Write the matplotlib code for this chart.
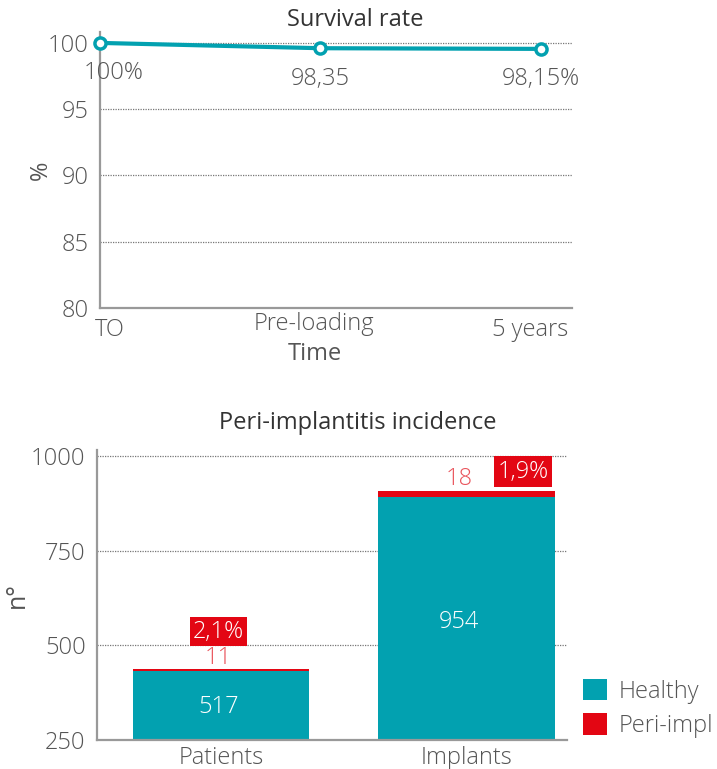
import numpy as np
import matplotlib
matplotlib.use("Agg")
from matplotlib import pyplot as plt
from matplotlib.transforms import ScaledTranslation

plt.rcParams['font.family'] = ['Open Sans', 'DejaVu Sans']
plt.rcParams['font.weight'] = 'light'

# Survival data
stages = ["TO", "Pre-loading", "5 years"]
survival = [100.0, 99.6, 99.55]
survival_labels = ["100%", "98,35", "98,15%"]

# Peri-implantitis data
groups = ["Patients", "Implants"]
healthy = [432, 892]
peri = [5, 16]
healthy_labels = ["517", "954"]
peri_labels = ["11", "18"]
peri_pct = ["2,1%", "1,9%"]

teal = "#02a1b0"
red = "#e30613"
pink = "#e9535b"
grey = "#555555"
spine_c = "#999999"
fs = 17

fig = plt.figure(figsize=(7.17, 7.69), dpi=100)

def style(ax):
    for s in ["top", "right"]:
        ax.spines[s].set_visible(False)
    for s in ["left", "bottom"]:
        ax.spines[s].set_color(spine_c)
        ax.spines[s].set_linewidth(1.6)
    ax.tick_params(length=0, colors=grey, labelsize=fs)
    ax.tick_params(axis="y", pad=8)
    ax.grid(axis="y", linestyle=(0, (1, 1)), color="#777777", linewidth=0.9)
    ax.set_axisbelow(True)

# ---- top: survival rate
ax1 = fig.add_axes([0.1395, 0.5995, 0.658, 0.359])
style(ax1)
x = np.arange(len(stages))
ax1.plot(x, survival, color=teal, linewidth=3, marker="o", markersize=8,
         markerfacecolor="white", markeredgecolor=teal, markeredgewidth=2.5,
         clip_on=False, zorder=3)
for i, lab in enumerate(survival_labels):
    dx = 10 if i == 0 else 0
    ax1.annotate(lab, (x[i], survival[i]), xytext=(dx, -22), textcoords="offset points",
                 ha="center", va="center", fontsize=fs, color=grey)
ax1.set_ylim(80, 100.83)
ax1.set_xlim(0, 2.14)
ax1.set_yticks([80, 85, 90, 95, 100])
ax1.set_xticks(x)
ax1.set_xticklabels(stages)
ax1.tick_params(axis="x", pad=7)
tl = ax1.get_xticklabels()
tl[0].set_ha("left")
tl[0].set_transform(tl[0].get_transform() + ScaledTranslation(-4/72, 0, fig.dpi_scale_trans))
tl[1].set_transform(tl[1].get_transform() + ScaledTranslation(-5/72, 4/72, fig.dpi_scale_trans))
tl[2].set_ha("right")
tl[2].set_transform(tl[2].get_transform() + ScaledTranslation(20/72, 0, fig.dpi_scale_trans))
ax1.set_ylabel("%", fontsize=fs, color=grey)
ax1.yaxis.set_label_coords(-0.10, 0.5)
ax1.set_xlabel("Time", fontsize=fs, color=grey)
ax1.xaxis.set_label_coords(0.455, -0.123)
ax1.set_title("Survival rate", fontsize=fs, color="#333333", pad=2, x=0.54)

# ---- bottom: peri-implantitis incidence
ax2 = fig.add_axes([0.135, 0.0377, 0.656, 0.377])
style(ax2)
xb = np.arange(len(groups))
w = 0.72
ax2.bar(xb, healthy, width=w, color=teal, label="Healthy")
ax2.bar(xb, peri, width=w, bottom=healthy, color=red, label="Peri-impl")
ax2.text(xb[0] - 0.01, 337, healthy_labels[0], ha="center", va="center", fontsize=fs, color="white")
ax2.text(xb[1] - 0.03, 561, healthy_labels[1], ha="center", va="center", fontsize=fs, color="white")
ax2.text(xb[0] - 0.01, 466, peri_labels[0], ha="center", va="center", fontsize=fs, color=pink)
ax2.text(xb[0] - 0.01, 536, peri_pct[0], ha="center", va="center", fontsize=fs, color="white",
         bbox=dict(boxstyle="square,pad=0.12", facecolor=red, edgecolor="none"))
ax2.text(xb[1] - 0.03, 939, peri_labels[1], ha="center", va="center", fontsize=fs, color=pink)
ax2.text(xb[1] + 0.23, 958, peri_pct[1], ha="center", va="center", fontsize=fs, color="white",
         bbox=dict(boxstyle="square,pad=0.16", facecolor=red, edgecolor="none"))
ax2.set_ylim(250, 1015)
ax2.set_xlim(-0.506, 1.41)
ax2.set_yticks([250, 500, 750, 1000])
ax2.set_xticks(xb)
ax2.set_xticklabels(groups)
ax2.tick_params(axis="x", pad=4)
ax2.set_ylabel("n°", fontsize=fs + 1, color=grey)
ax2.yaxis.set_label_coords(-0.143, 0.5)
ax2.set_title("Peri-implantitis incidence", fontsize=fs, color="#333333", pad=15, x=0.555)
ax2.legend(loc="lower left", bbox_to_anchor=(0.80, 0.028), bbox_transform=fig.transFigure,
           frameon=False, fontsize=fs, labelcolor=grey, handlelength=1.0, handleheight=1.0,
           handletextpad=0.5, labelspacing=0.4, borderaxespad=0)

fig.savefig("out.png", dpi=100)
